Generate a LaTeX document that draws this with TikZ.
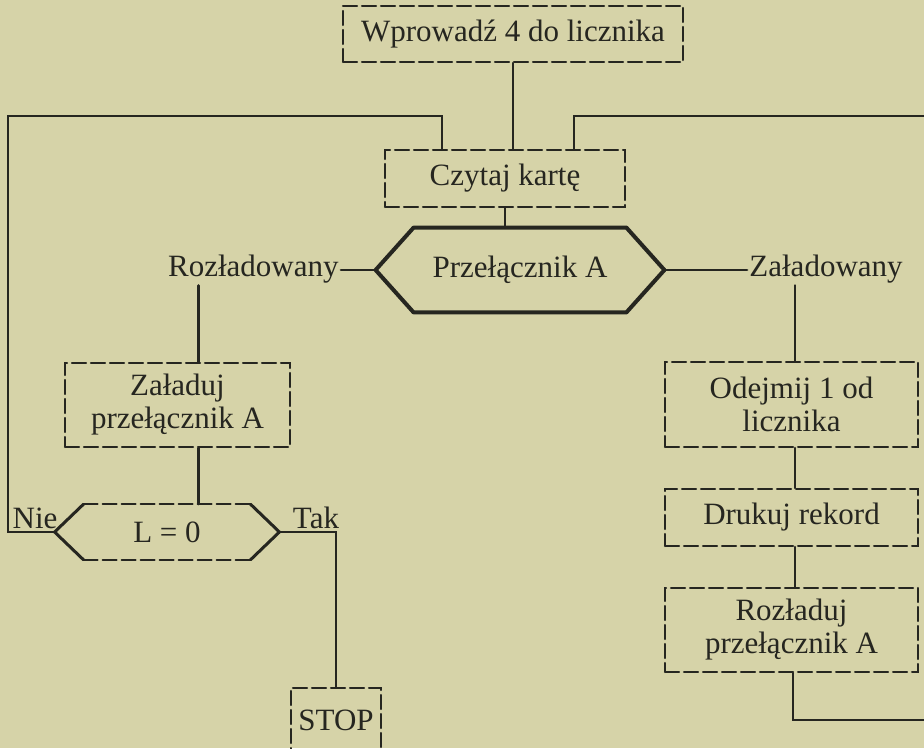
\documentclass[tikz,border=0pt]{standalone}
\usepackage{fontspec}
\setmainfont{Liberation Serif}
\usetikzlibrary{calc}

\definecolor{paper}{RGB}{214,211,168}
\definecolor{ink}{RGB}{38,38,32}

\begin{document}
\begin{tikzpicture}[x=0.5pt, y=-0.5pt, line cap=round,
    every node/.style={text=ink, font=\fontsize{15.5}{16.5}\selectfont},
    box/.style={draw=ink, line width=1.05pt, dash pattern=on 7pt off 2.5pt, align=center, inner sep=0pt},
    conn/.style={draw=ink, line width=1.35pt},
    hexside/.style={draw=ink, line width=2pt, line join=round}]
  \useasboundingbox (0,0) rectangle (924,748);
  \clip (0,0) rectangle (924,748);
  \fill[paper] (0,0) rectangle (924,748);

  % boxes
  \node[box, minimum width=170pt, minimum height=28pt] (licz) at (513,34) {Wprowadź 4 do licznika};
  \node[box, minimum width=120pt, minimum height=28.5pt] (czytaj) at (505,178.5) {Czytaj kartę};
  \node[minimum width=106pt, minimum height=42pt, inner sep=0pt] (przel) at (520,270) {Przełącznik A};
  \node[box, minimum width=112.5pt, minimum height=42pt] (zaladuj) at (177.5,405) {Załaduj\\przełącznik A};
  \node[minimum width=83pt, minimum height=27.5pt, inner sep=0pt] (lzero) at (167,532) {L = 0};
  \node[box, minimum width=45pt, minimum height=32pt] (stop) at (336,720) {STOP};
  \node[box, minimum width=126.5pt, minimum height=42.5pt] (odejmij) at (791.5,404.5) {Odejmij 1 od\\licznika};
  \node[box, minimum width=126.5pt, minimum height=28.5pt] (drukuj) at (791.5,517.5) {Drukuj rekord};
  \node[box, minimum width=126.5pt, minimum height=42pt] (rozladuj) at (791.5,630) {Rozładuj\\przełącznik A};

  % labels
  \node[anchor=east, inner sep=1pt] (rozl) at (341,269) {Rozładowany};
  \node[anchor=west, inner sep=1pt] (zal) at (747,269) {Załadowany};
  \node (nie) at (35,518) {Nie};
  \node (tak) at (316,518) {Tak};

  % decision outlines
  \path (przel.west) ++(-38,0) coordinate (pL) (przel.east) ++(38,0) coordinate (pR);
  \draw[hexside] (przel.north west) -- (przel.north east) -- (pR) -- (przel.south east)
    -- (przel.south west) -- (pL) -- cycle;
  \path (lzero.west) ++(-29,0) coordinate (lL) (lzero.east) ++(29,0) coordinate (lR);
  \draw[hexside, line width=1.5pt] (lzero.north west) -- (lL) -- (lzero.south west);
  \draw[hexside, line width=1.5pt] (lzero.north east) -- (lR) -- (lzero.south east);
  \draw[box] (lzero.north west) -- (lzero.north east) (lzero.south west) -- (lzero.south east);

  % connectors
  \coordinate (loopL) at (8,116);
  \coordinate (loopR) at (935,116);
  \coordinate (edgeB) at (935,720);
  \draw[conn] (licz.south) -- (licz.south |- czytaj.north);
  \draw[conn] (czytaj.south) -- (czytaj.south |- przel.north);
  \draw[conn] (pL) -- (rozl.east |- pL);
  \draw[conn] (pR) -- (zal.west |- pR);
  \draw[conn] (zaladuj.north) ++(21,0) coordinate (zt) -- (zt |- rozl.south);
  \draw[conn] (odejmij.north) ++(3.5,0) coordinate (ot) -- (ot |- zal.south);
  \draw[conn] (zaladuj.south) ++(21,0) coordinate (zb) -- (zb |- lzero.north);
  \draw[conn] (odejmij.south) ++(3.5,0) coordinate (ob) -- (ob |- drukuj.north);
  \draw[conn] (drukuj.south) ++(3.5,0) coordinate (db) -- (db |- rozladuj.north);
  \draw[conn] (rozladuj.south) ++(1.5,0) coordinate (rb) -- (rb |- edgeB) -- (edgeB);
  \draw[conn] (lR) -- (lR -| stop.north) -- (stop.north);
  \draw[conn] (czytaj.north) ++(-63,0) coordinate (cl) -- (cl |- loopL) -- (loopL) -- (loopL |- lL) -- (lL);
  \draw[conn] (czytaj.north) ++(69,0) coordinate (cr) -- (cr |- loopR) -- (loopR);
\end{tikzpicture}
\end{document}
